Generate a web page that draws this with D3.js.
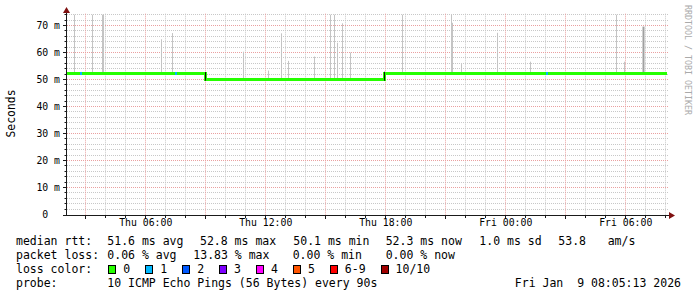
<!DOCTYPE html>
<html><head><meta charset="utf-8">
<script src="https://cdn.jsdelivr.net/npm/d3@7"></script>
<style>
html,body{margin:0;padding:0;background:#fff;}
svg{display:block;}
text{font-family:"DejaVu Sans Mono",monospace;white-space:pre;}
</style></head><body>
<svg id="c" width="697" height="297"></svg>
<script>
// ---------- data ----------
const timeStart = "2026-01-08T02:05:13";
const timeEnd   = "2026-01-09T08:05:13";
const yMaxValue = 74;                       // ms
const yTickValues = [0, 10, 20, 30, 40, 50, 60, 70];
const xLabelTimes = ["2026-01-08T06:00:00","2026-01-08T12:00:00","2026-01-08T18:00:00","2026-01-09T00:00:00","2026-01-09T06:00:00"];

// median rtt (ms), step series
const medianTimes  = ["2026-01-08T02:05:13","2026-01-08T09:00:00","2026-01-08T17:57:00","2026-01-09T08:05:13"];
const medianValues = [52.2, 50.1, 52.3, 52.3];

// samples with packet loss (count of lost pings out of 10)
const lossTimes  = ["2026-01-08T02:44:00","2026-01-08T07:29:00","2026-01-09T02:01:00"];
const lossCounts = [1, 1, 1];

// smoke spikes: time and max rtt (ms)
const smokeTimes = ["2026-01-08T02:27:00","2026-01-08T03:21:00","2026-01-08T03:51:00","2026-01-08T03:54:00",
  "2026-01-08T06:48:00","2026-01-08T07:21:00","2026-01-08T10:54:00","2026-01-08T12:09:00","2026-01-08T12:49:00",
  "2026-01-08T13:09:00","2026-01-08T14:27:00","2026-01-08T15:15:00","2026-01-08T15:27:00","2026-01-08T15:36:00",
  "2026-01-08T15:51:00","2026-01-08T16:16:00","2026-01-08T18:51:00","2026-01-08T21:18:00","2026-01-08T21:23:00",
  "2026-01-08T21:48:00","2026-01-08T23:36:00","2026-01-09T01:15:00","2026-01-09T05:33:00","2026-01-09T05:59:00",
  "2026-01-09T06:55:00"];
const smokeMax = [74, 74, 74, 74, 64.9, 67.2, 60.3, 53.3, 67.1, 56.9, 58.5, 74, 74, 63.6, 70.8, 60.0, 74, 74, 71.0,
  55.7, 67.3, 56.6, 74, 56.6, 69.6];
const smokeDensity = [1,1,1,1,1,1,1,1,1,1,1,1,1,1,1,1,1,1,1,1,1,1,1,1,2];

// legend
const rttStatValues = [51.6, 52.8, 50.1, 52.3];
const rttStatNames  = ["avg", "max", "min", "now"];
const rttSd = 1.0;
const rttAmS = 53.8;
const lossStatValues = [0.06, 13.83, 0.00, 0.00];
const lossLabels = ["0", "1", "2", "3", "4", "5", "6-9", "10/10"];
const lossColors = ["#26ff00", "#00b8ff", "#0059ff", "#7e00ff", "#ff00ff", "#ff5500", "#ff0000", "#a10000"];
const probeText = "10 ICMP Echo Pings (56 Bytes) every 90s";
const dateText = "Fri Jan  9 08:05:13 2026";
const yAxisTitle = "Seconds";
const watermark = "RRDTOOL / TOBI OETIKER";

// ---------- drawing ----------
const nb = s => s.replace(/ /g, "\u00a0");
const svg = d3.select("#c");
svg.append("rect").attr("width", 697).attr("height", 297).attr("fill", "#fff");

const X0 = 67, X1 = 667, YB = 214.5, PX_PER_MS = 2.7;
const t0 = new Date(timeStart), t1 = new Date(timeEnd);
const x = d3.scaleTime().domain([t0, t1]).range([X0, X1]);
const y = d3.scaleLinear().domain([0, yMaxValue]).range([YB, YB - yMaxValue * PX_PER_MS]);
const snap = v => Math.round(v - 0.5) + 0.5;
const yTop = y(yMaxValue);

// horizontal grid
const hVals = d3.range(2, yMaxValue + 0.001, 2);
const gGrid = svg.append("g");
gGrid.selectAll("line.h").data(hVals.filter(v => v % 10 !== 0)).join("line")
  .attr("x1", X0).attr("x2", X1 + 2).attr("y1", d => snap(y(d))).attr("y2", d => snap(y(d)))
  .attr("stroke", "#c8c8c8").attr("stroke-dasharray", "1,1");
// vertical grid
const hours = d3.timeHour.range(d3.timeHour.ceil(t0), t1);
gGrid.selectAll("line.v").data(hours.filter(h => h.getHours() % 3 !== 0)).join("line")
  .attr("x1", d => snap(x(d))).attr("x2", d => snap(x(d))).attr("y1", yTop - 1).attr("y2", 215)
  .attr("stroke", "#c8c8c8").attr("stroke-dasharray", "1,1");
// major grid
gGrid.selectAll("line.hm").data(hVals.filter(v => v % 10 === 0)).join("line")
  .attr("x1", X0).attr("x2", X1 + 2).attr("y1", d => snap(y(d))).attr("y2", d => snap(y(d)))
  .attr("stroke", "#eaa0a0").attr("stroke-dasharray", "1,1");
gGrid.selectAll("line.vm").data(hours.filter(h => h.getHours() % 3 === 0)).join("line")
  .attr("x1", d => snap(x(d))).attr("x2", d => snap(x(d))).attr("y1", yTop - 1).attr("y2", 215)
  .attr("stroke", "#eaa0a0").attr("stroke-dasharray", "1,1");

// median lookup
const mT = medianTimes.map(s => new Date(s));
const medianAt = t => { let i = d3.bisectRight(mT, t) - 1; i = Math.max(0, Math.min(i, medianValues.length - 1)); return medianValues[i]; };

// smoke
const smoke = smokeTimes.map((s, i) => ({ t: new Date(s), v: smokeMax[i], d: smokeDensity[i] }));
svg.append("g").selectAll("line").data(smoke).join("line")
  .attr("x1", d => snap(x(d.t))).attr("x2", d => snap(x(d.t)))
  .attr("y1", d => y(medianAt(d.t))).attr("y2", d => Math.max(yTop, y(Math.min(d.v, yMaxValue))))
  .attr("stroke", d => d.d > 1 ? "#a0a0a0" : "#c4c4c4")
  .attr("stroke-width", d => d.d > 1 ? 2 : 1);

// median line
const med = medianTimes.map((s, i) => ({ t: new Date(s), v: medianValues[i] }));
const line = d3.line().x(d => x(d.t)).y(d => y(d.v)).curve(d3.curveStepAfter);
svg.append("path").datum(med).attr("d", line).attr("fill", "none")
  .attr("stroke", lossColors[0]).attr("stroke-width", 3).attr("shape-rendering", "crispEdges");
// transitions
for (let i = 1; i < med.length - 1; i++) {
  const xx = snap(x(med[i].t));
  const a = y(med[i - 1].v), b = y(med[i].v);
  svg.append("line").attr("x1", xx).attr("x2", xx)
    .attr("y1", Math.min(a, b) - 1.5).attr("y2", Math.max(a, b) + 1.5)
    .attr("stroke", "#111").attr("stroke-width", 1);
}
// loss markers
const loss = lossTimes.map((s, i) => ({ t: new Date(s), c: lossCounts[i] }));
svg.append("g").selectAll("rect").data(loss).join("rect")
  .attr("x", d => Math.round(x(d.t))).attr("width", 2)
  .attr("y", d => Math.round(y(medianAt(d.t)) - 1.5)).attr("height", 3)
  .attr("fill", d => lossColors[Math.min(d.c, 6)]);

// axes
const axisColor = "#1a1a1a", arrowColor = "#7f1010";
svg.append("line").attr("x1", 66.5).attr("x2", 66.5).attr("y1", 216).attr("y2", 12).attr("stroke", axisColor);
svg.append("line").attr("x1", 63).attr("x2", 670).attr("y1", 215.5).attr("y2", 215.5).attr("stroke", axisColor);
svg.append("path").attr("d", "M63,13 L70,13 L66.5,7 Z").attr("fill", arrowColor);
svg.append("path").attr("d", "M669,212 L669,219 L675,215.5 Z").attr("fill", arrowColor);
// axis ticks
svg.append("g").selectAll("line").data(hVals).join("line")
  .attr("x1", d => d % 10 === 0 ? 63 : 64.5).attr("x2", 66).attr("y1", d => snap(y(d))).attr("y2", d => snap(y(d)))
  .attr("stroke", axisColor);
svg.append("g").selectAll("line").data(hours).join("line")
  .attr("x1", d => snap(x(d))).attr("x2", d => snap(x(d))).attr("y1", 216)
  .attr("y2", d => d.getHours() % 3 === 0 ? 219 : 218).attr("stroke", axisColor);

// y tick labels
const yAxis = d3.axisLeft(y).tickValues(yTickValues).tickSize(0)
  .tickFormat(d => d === 0 ? nb("0  ") : nb(d + " m"));
const gy = svg.append("g").attr("transform", "translate(60,0)").call(yAxis);
gy.select(".domain").remove();
gy.selectAll("text").attr("x", 0).attr("dy", "0.35em").attr("font-size", "9.8px")
  .attr("font-family", "DejaVu Sans Mono").attr("fill", "#000");

// x tick labels
const xAxis = d3.axisBottom(x).tickValues(xLabelTimes.map(s => new Date(s))).tickSize(0)
  .tickFormat(d3.timeFormat("%a %H:%M"));
const gx = svg.append("g").attr("transform", "translate(0,219)").call(xAxis);
gx.select(".domain").remove();
gx.selectAll("text").attr("y", 0).attr("dy", "0.71em").attr("font-size", "9.8px")
  .attr("font-family", "DejaVu Sans Mono").attr("fill", "#000");

// y title
svg.append("text").attr("transform", "translate(14.5,113.5) rotate(-90)").attr("text-anchor", "middle")
  .attr("font-size", "11.4px").attr("fill", "#000").text(yAxisTitle);

// watermark
svg.append("text").attr("transform", "translate(685,60) rotate(90)").attr("text-anchor", "middle")
  .attr("font-size", "8.3px").attr("fill", "#aaaaaa").text(nb(watermark));

// legend
const LF = "11.5px";
const lg = svg.append("g").attr("font-size", LF).attr("fill", "#000");
const L1 = 245, L2 = 259, L3 = 273, L4 = 287;
lg.append("text").attr("x", 16).attr("y", L1).text(nb("median rtt:"));
const rttX = [107.3, 200, 293.3, 385.7];
rttStatValues.forEach((v, i) => lg.append("text").attr("x", rttX[i]).attr("y", L1).text(nb(v.toFixed(1) + " ms " + rttStatNames[i])));
lg.append("text").attr("x", 479.3).attr("y", L1).text(nb(rttSd.toFixed(1) + " ms sd"));
lg.append("text").attr("x", 558.3).attr("y", L1).text(rttAmS.toFixed(1));
lg.append("text").attr("x", 607.7).attr("y", L1).text("am/s");

lg.append("text").attr("x", 16).attr("y", L2).text(nb("packet loss:"));
const lossX = [107.3, 193.3, 292.7, 385.7];
lossStatValues.forEach((v, i) => lg.append("text").attr("x", lossX[i]).attr("y", L2).text(nb(v.toFixed(2) + " % " + rttStatNames[i])));

lg.append("text").attr("x", 16).attr("y", L3).text(nb("loss color:"));
let bx = 108.3;
const CW = 6.92;
lossLabels.forEach((lab, i) => {
  lg.append("rect").attr("x", Math.round(bx) + 0.5).attr("y", 265.5).attr("width", 7).attr("height", 8)
    .attr("fill", lossColors[i]).attr("stroke", "#000").attr("stroke-width", 1);
  lg.append("text").attr("x", bx + 15).attr("y", L3).text(lab);
  bx = bx + 15 + lab.length * CW + 15;
});

lg.append("text").attr("x", 16).attr("y", L4).text("probe:");
lg.append("text").attr("x", 107.3).attr("y", L4).text(nb(probeText));
lg.append("text").attr("x", 681).attr("y", L4).attr("text-anchor", "end").text(nb(dateText));
</script>
</body></html>
